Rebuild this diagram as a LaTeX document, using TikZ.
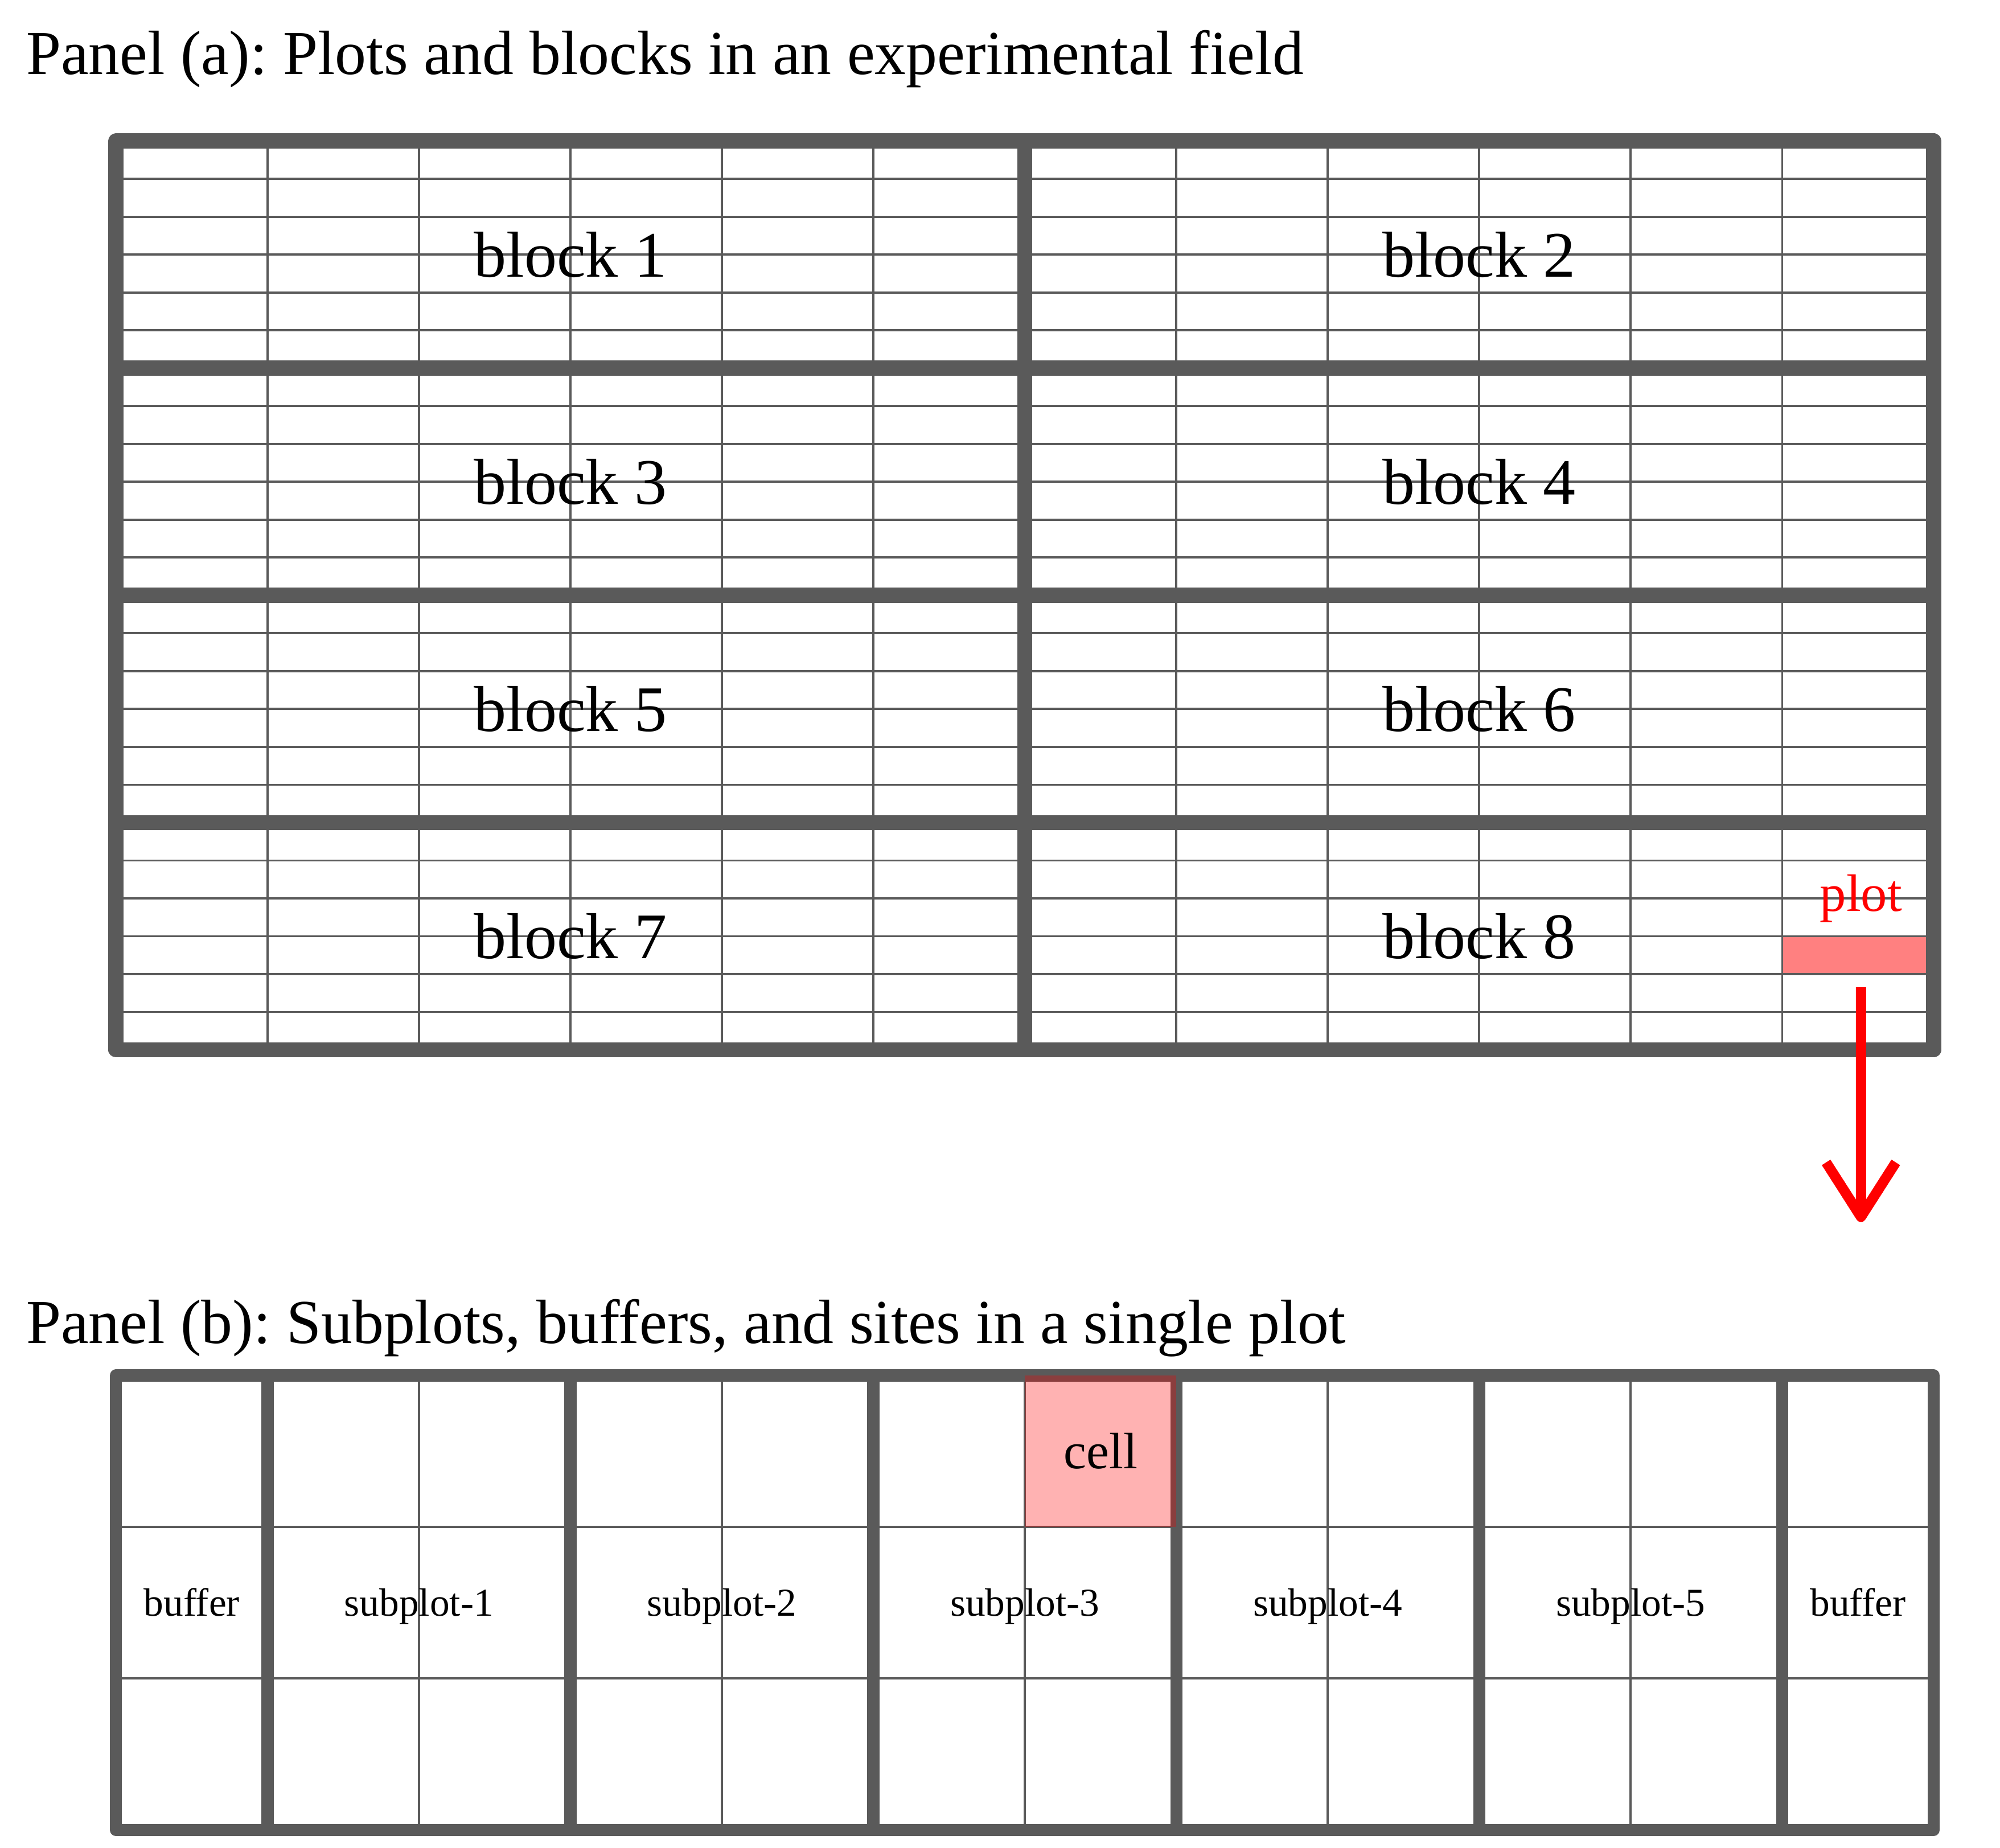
\documentclass[tikz,border=0pt]{standalone}
\usepackage{fontspec}
\setmainfont{Liberation Serif}
\usetikzlibrary{arrows.meta,positioning}
\definecolor{gridgray}{RGB}{90,90,90}
\frenchspacing

\begin{document}
\begin{tikzpicture}[
    x=1cm, y=1cm,
    thinline/.style={draw=gridgray, line width=0.4pt},
    blockline/.style={draw=gridgray, line width=2.85pt},
    frameA/.style={draw=gridgray, line width=2.85pt, line join=round},
    subline/.style={draw=gridgray, line width=2.28pt},
    frameB/.style={draw=gridgray, line width=2.28pt, line join=round},
    paneltitle/.style={anchor=base west, inner sep=0pt, font=\fontsize{11.74}{14}\selectfont},
    blocklabel/.style={anchor=base, inner sep=0pt, font=\fontsize{12.2}{14}\selectfont},
    plotlabel/.style={anchor=base, inner sep=0pt, text=red, font=\fontsize{9.9}{12}\selectfont},
    sitelabel/.style={anchor=base, inner sep=0pt, font=\fontsize{7.42}{9}\selectfont},
    plotcell/.style={rectangle, fill=red!50, minimum width=1cm, minimum height=0.25cm, inner sep=0pt},
    cellbox/.style={rectangle, fill=red, fill opacity=0.3, text opacity=1, minimum size=1cm, inner sep=0pt, font=\fontsize{9.6}{11}\selectfont},
    zoomarrow/.style={-{Straight Barb[length=0.36cm, width=0.46cm, line join=round]}, draw=red, line width=1.92pt}
]
\useasboundingbox (-0.766,-5.266) rectangle (12.438,6.931);

% panel (a): field with 8 blocks
\node[paneltitle] (titleA) at (-0.60,6.442) {Panel (a): Plots and blocks in an experimental field};
\node[plotcell] (plot) at (11.5,0.625) {};
\draw[thinline] (0,0) grid[xstep=1, ystep=0.25] (12,6);
\foreach \y in {1.5,3,4.5} \draw[blockline] (0,\y) -- (12,\y);
\draw[blockline] (6,0) -- (6,6);
\draw[frameA] (0,0) rectangle (12,6);

\foreach \n/\x/\y in {1/3/5.25, 2/9/5.25, 3/3/3.75, 4/9/3.75, 5/3/2.25, 6/9/2.25, 7/3/0.75, 8/9/0.75}
  \node[blocklabel] (block\n) at (\x,\y-0.146) {block \n};
\node[plotlabel] (plottext) at (11.52,0.914) {plot};

% panel (b): one plot
\node[paneltitle] (titleB) at (-0.60,-1.937) {Panel (b): Subplots, buffers, and sites in a single plot};
\begin{scope}[shift={(0,-5.15)}]
  \draw[thinline] (0,0) grid (12,3);
  \foreach \x in {1,3,5,7,9,11} \draw[subline] (\x,0) -- (\x,3);
  \draw[frameB] (0,0) rectangle (12,3);
\end{scope}
\node[cellbox] (cell) at (6.5,-2.65) {cell};
\node[sitelabel] (bufL) at (0.5,-3.739) {buffer};
\foreach \k in {1,...,5}
  \node[sitelabel] (sub\k) at (2*\k,-3.739) {subplot-\k};
\node[sitelabel] (bufR) at (11.5,-3.739) {buffer};

% zoom arrow
\coordinate (zoomtip) at (11.52,-1.137);
\draw[zoomarrow] ([xshift=0.02cm,yshift=-0.08cm]plot.south) -- (zoomtip);

\end{tikzpicture}
\end{document}
